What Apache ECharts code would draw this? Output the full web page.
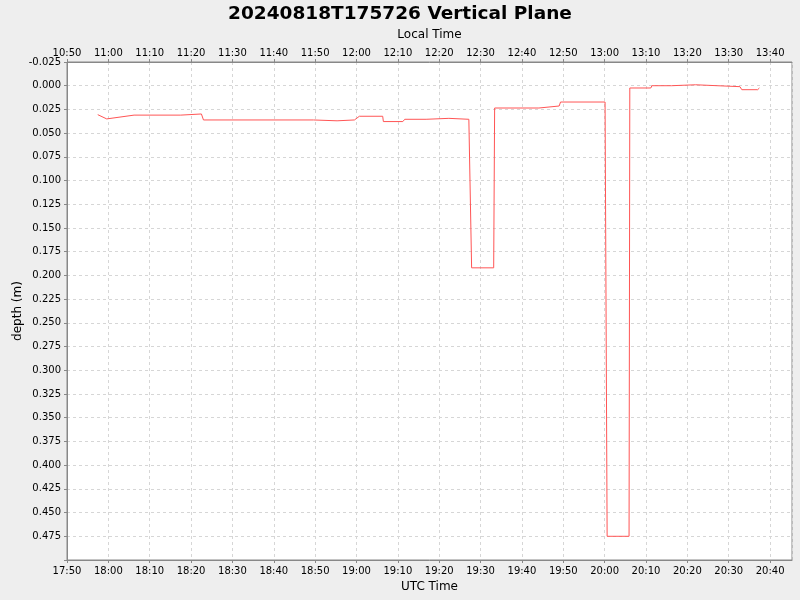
<!DOCTYPE html>
<html>
<head>
<meta charset="utf-8">
<script src="https://cdn.jsdelivr.net/npm/echarts@6/dist/echarts.min.js"></script>
<style>
  html, body { margin: 0; padding: 0; background: #eeeeee; }
  #chart { width: 800px; height: 600px; }
</style>
</head>
<body>
<div id="chart"></div>
<script>
// UTC sample times (HH:MM:SS) and depth in metres
const utcTimes = [
  "17:57:26", "17:59:36", "18:06:13", "18:17:30", "18:17:40", "18:22:30",
  "18:23:00", "18:49:36", "18:49:50", "18:55:18", "18:55:30", "18:59:30",
  "19:00:42", "19:06:20", "19:06:30", "19:11:12", "19:11:40", "19:16:50",
  "19:17:10", "19:22:20", "19:22:40", "19:27:10", "19:27:50", "19:33:10",
  "19:33:24", "19:44:06", "19:44:20", "19:49:00", "19:49:20", "20:00:06",
  "20:00:36", "20:05:54", "20:06:05", "20:11:10", "20:11:25", "20:16:10",
  "20:16:20", "20:22:00", "20:22:15", "20:27:13", "20:27:25", "20:32:43",
  "20:33:10", "20:37:00", "20:37:25"
];
const depths = [
  0.0305, 0.0350, 0.0310, 0.0310, 0.0298, 0.0298,
  0.0361, 0.0361, 0.0370, 0.0370, 0.0361, 0.0361,
  0.0322, 0.0322, 0.0378, 0.0378, 0.0354, 0.0354,
  0.0344, 0.0344, 0.0354, 0.0354, 0.1920, 0.1920,
  0.0235, 0.0235, 0.0214, 0.0214, 0.0172, 0.0172,
  0.4750, 0.4750, 0.0024, 0.0024, 0.0000, 0.0000,
  -0.0010, -0.0010, 0.0000, 0.0000, 0.0010, 0.0010,
  0.0042, 0.0042, 0.0024
];
const localOffsetMin = -7 * 60; // local time = UTC - 7h

const toMin = s => {
  const p = s.split(":").map(Number);
  return p[0] * 60 + p[1] + p[2] / 60;
};
const fmtHM = m => {
  m = ((Math.round(m) % 1440) + 1440) % 1440;
  const h = Math.floor(m / 60), mm = m % 60;
  return (h < 10 ? "0" : "") + h + ":" + (mm < 10 ? "0" : "") + mm;
};

const font = "DejaVu Sans";
const gridLine = { show: true, lineStyle: { color: "#d6d6d6", type: [3, 3], width: 1 } };
const axisLineGray = { show: true, onZero: false, lineStyle: { color: "#888888", width: 1 } };
const tickGray = { show: true, length: 3, lineStyle: { color: "#888888" } };

const option = {
  animation: false,
  backgroundColor: "#eeeeee",
  title: {
    text: "20240818T175726 Vertical Plane",
    left: "center",
    top: 0,
    textStyle: { fontFamily: font, fontSize: 18.5, fontWeight: "bold", color: "#000" }
  },
  grid: {
    left: 67, right: 8, top: 62, bottom: 40,
    show: true, backgroundColor: "#ffffff", borderColor: "#888888", borderWidth: 1
  },
  xAxis: [
    {
      type: "value",
      position: "bottom",
      min: 1070, max: 1245.3, interval: 10,
      name: "UTC Time", nameLocation: "middle", nameGap: 19,
      nameTextStyle: { fontFamily: font, fontSize: 12, color: "#000" },
      axisLine: axisLineGray, axisTick: tickGray, splitLine: gridLine,
      axisLabel: { fontFamily: font, fontSize: 10, color: "#000", margin: 6, showMaxLabel: false, formatter: v => fmtHM(v) }
    },
    {
      type: "value",
      position: "top",
      min: 1070, max: 1245.3, interval: 10,
      name: "Local Time", nameLocation: "middle", nameGap: 21,
      nameTextStyle: { fontFamily: font, fontSize: 12, color: "#000" },
      axisLine: axisLineGray, axisTick: tickGray, splitLine: { show: false },
      axisLabel: { fontFamily: font, fontSize: 10, color: "#000", margin: 4, showMaxLabel: false, formatter: v => fmtHM(v + localOffsetMin) }
    }
  ],
  yAxis: {
    type: "value",
    inverse: true,
    min: -0.025, max: 0.5, interval: 0.025,
    name: "depth (m)", nameLocation: "middle", nameGap: 43, nameMoveOverlap: false,
    nameTextStyle: { fontFamily: font, fontSize: 12, color: "#000" },
    axisLine: axisLineGray, axisTick: tickGray, splitLine: gridLine,
    axisLabel: {
      fontFamily: font, fontSize: 10, color: "#000", margin: 6,
      formatter: v => (v >= 0.4999 ? "" : v.toFixed(3))
    }
  },
  series: [
    {
      type: "line",
      xAxisIndex: 0,
      showSymbol: false,
      lineStyle: { color: "#ff5555", width: 1 },
      data: utcTimes.map((t, i) => [toMin(t), depths[i]])
    }
  ]
};

const chart = echarts.init(document.getElementById("chart"));
chart.setOption(option);
</script>
</body>
</html>
